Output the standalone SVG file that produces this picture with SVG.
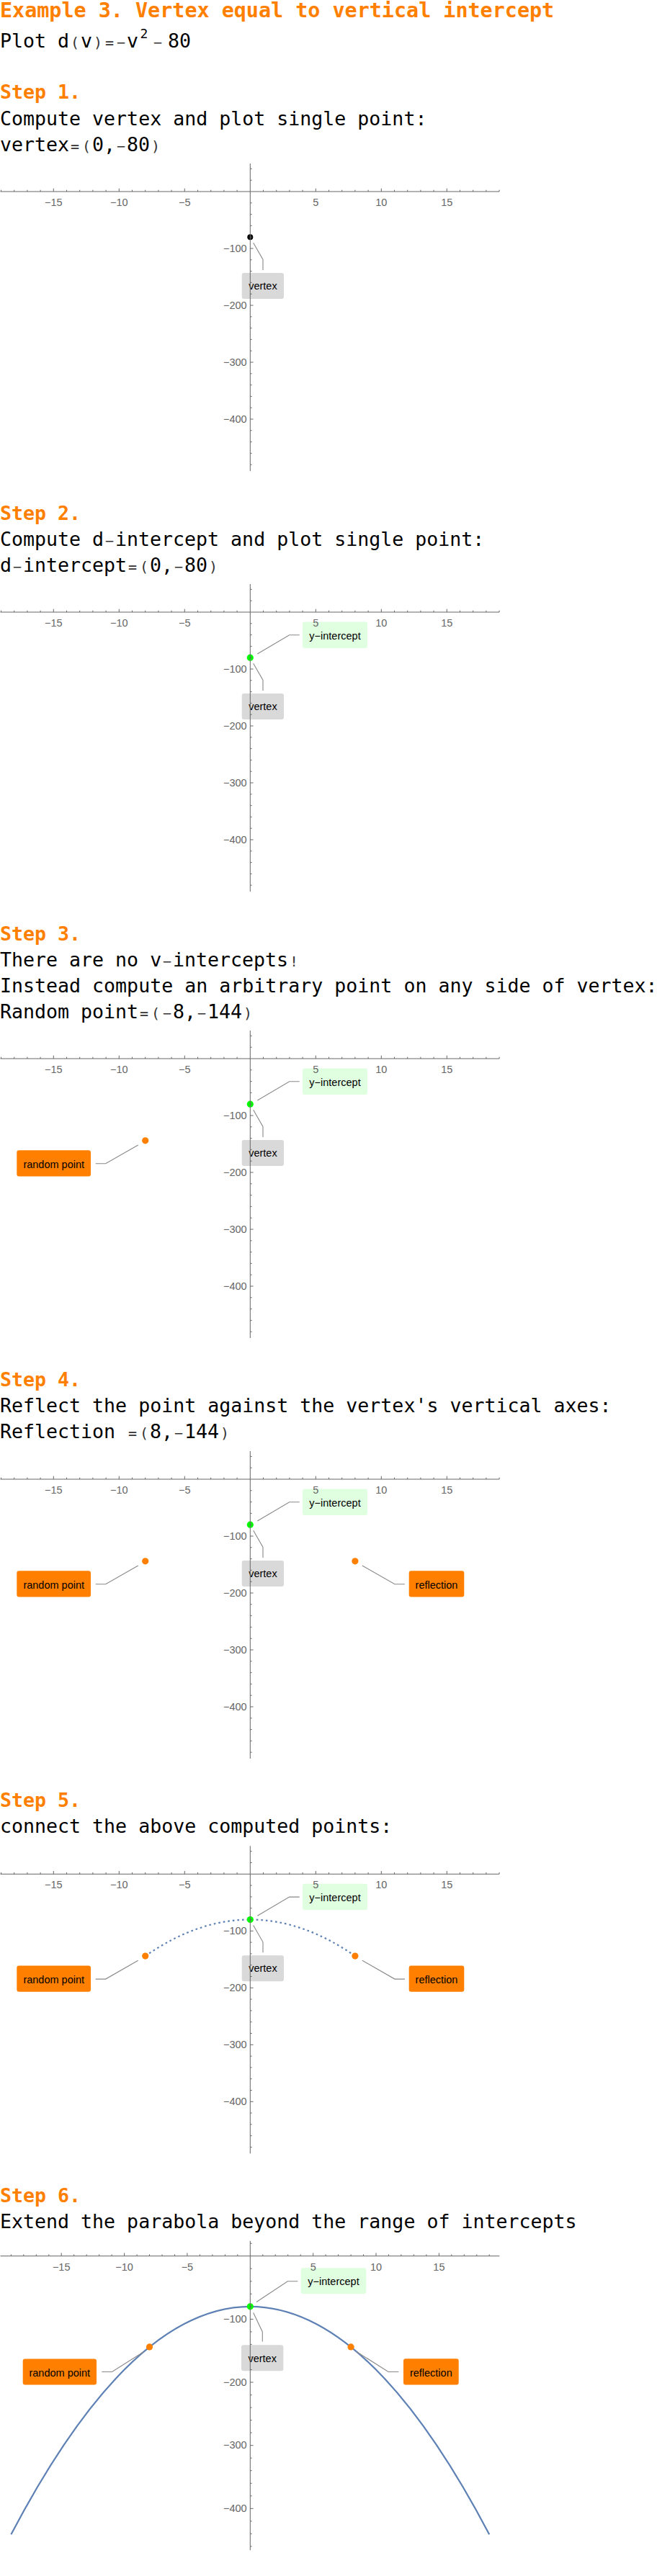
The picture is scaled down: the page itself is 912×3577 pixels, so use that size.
<svg xmlns="http://www.w3.org/2000/svg" xmlns:xlink="http://www.w3.org/1999/xlink" width="912" height="3577" viewBox="0 0 912 3577">
<style>
.h{font-family:"DejaVu Sans Mono",monospace;font-weight:bold;fill:#ff8000;font-size:26.6px}
.ti{font-size:28.4px}
.t{font-family:"DejaVu Sans Mono",monospace;font-size:26.6px;fill:#000}
.s{font-size:20px;fill:#333}
.sup{font-size:18px}
.tick{font-family:"Liberation Sans",Arial,sans-serif;font-size:14.5px;fill:#666}
.lbl{font-family:"Liberation Sans",Arial,sans-serif;font-size:14.5px;fill:#000;text-anchor:middle}
.ax{stroke:#666;stroke-width:1;fill:none}
.ld{stroke:#888;stroke-width:1.1;fill:none}
.bg{fill:#d9d9d9}
.by{fill:#e0ffe0}
.bo{fill:#ff8000}
.po{fill:#ff8000}
.pg{fill:#00ff00}
.pk{fill:#000}
.cv{stroke:#5e81b5;stroke-width:2.2;fill:none}
.dt{stroke:#5e81b5;stroke-width:2.2;fill:none;stroke-dasharray:2.6 4}
</style>
<defs>
<g id="axA">
<path class="ax" d="M0.5 0H693M347.3 -39V388"/>
<path class="ax" d="M1.5 0v-2.3M19.7 0v-2.3M37.9 0v-2.3M56.1 0v-2.3M92.5 0v-2.3M110.7 0v-2.3M128.9 0v-2.3M147.1 0v-2.3M183.5 0v-2.3M201.7 0v-2.3M219.9 0v-2.3M238.1 0v-2.3M274.5 0v-2.3M292.7 0v-2.3M310.9 0v-2.3M329.1 0v-2.3M365.5 0v-2.3M383.7 0v-2.3M401.9 0v-2.3M420.1 0v-2.3M456.5 0v-2.3M474.7 0v-2.3M492.9 0v-2.3M511.1 0v-2.3M547.5 0v-2.3M565.7 0v-2.3M583.9 0v-2.3M602.1 0v-2.3M638.5 0v-2.3M656.7 0v-2.3M674.9 0v-2.3M693.1 0v-2.3M74.3 0v-4.3M165.3 0v-4.3M256.3 0v-4.3M438.3 0v-4.3M529.3 0v-4.3M620.3 0v-4.3"/>
<path class="ax" d="M347.3 -31.6h2.3M347.3 -15.8h2.3M347.3 15.8h2.3M347.3 31.6h2.3M347.3 47.4h2.3M347.3 63.2h2.3M347.3 94.8h2.3M347.3 110.6h2.3M347.3 126.4h2.3M347.3 142.2h2.3M347.3 173.8h2.3M347.3 189.6h2.3M347.3 205.4h2.3M347.3 221.2h2.3M347.3 252.8h2.3M347.3 268.6h2.3M347.3 284.4h2.3M347.3 300.2h2.3M347.3 331.8h2.3M347.3 347.6h2.3M347.3 363.4h2.3M347.3 379.2h2.3M347.3 79h4.3M347.3 158h4.3M347.3 237h4.3M347.3 316h4.3"/>
<text class="tick" text-anchor="middle" y="20"><tspan x="74.3">−15</tspan><tspan x="165.3">−10</tspan><tspan x="256.3">−5</tspan><tspan x="438.3">5</tspan><tspan x="529.3">10</tspan><tspan x="620.3">15</tspan></text>
<text class="tick" text-anchor="end"><tspan x="342.7" y="83.7">−100</tspan><tspan x="342.7" y="162.7">−200</tspan><tspan x="342.7" y="241.7">−300</tspan><tspan x="342.7" y="320.7">−400</tspan></text>
</g>
<g id="axB">
<path class="ax" d="M0.5 0H693.3M347.3 -21V408.5"/>
<path class="ax" d="M15.4 0v-2.3M32.8 0v-2.3M50.3 0v-2.3M67.8 0v-2.3M102.7 0v-2.3M120.2 0v-2.3M137.7 0v-2.3M155.1 0v-2.3M190.1 0v-2.3M207.5 0v-2.3M225 0v-2.3M242.5 0v-2.3M277.4 0v-2.3M294.9 0v-2.3M312.4 0v-2.3M329.8 0v-2.3M364.8 0v-2.3M382.2 0v-2.3M399.7 0v-2.3M417.2 0v-2.3M452.1 0v-2.3M469.6 0v-2.3M487.1 0v-2.3M504.5 0v-2.3M539.5 0v-2.3M556.9 0v-2.3M574.4 0v-2.3M591.9 0v-2.3M626.8 0v-2.3M644.3 0v-2.3M661.8 0v-2.3M679.2 0v-2.3M85.2 0v-4.3M172.6 0v-4.3M259.9 0v-4.3M434.7 0v-4.3M522 0v-4.3M609.4 0v-4.3"/>
<path class="ax" d="M347.3 -17.5h2.3M347.3 17.5h2.3M347.3 35.1h2.3M347.3 52.6h2.3M347.3 70.1h2.3M347.3 105.2h2.3M347.3 122.7h2.3M347.3 140.3h2.3M347.3 157.8h2.3M347.3 192.9h2.3M347.3 210.4h2.3M347.3 227.9h2.3M347.3 245.4h2.3M347.3 280.5h2.3M347.3 298h2.3M347.3 315.6h2.3M347.3 333.1h2.3M347.3 368.2h2.3M347.3 385.7h2.3M347.3 403.2h2.3M347.3 87.7h4.3M347.3 175.3h4.3M347.3 263h4.3M347.3 350.6h4.3"/>
<text class="tick" text-anchor="middle" y="20"><tspan x="85.2">−15</tspan><tspan x="172.6">−10</tspan><tspan x="259.9">−5</tspan><tspan x="434.7">5</tspan><tspan x="522">10</tspan><tspan x="609.4">15</tspan></text>
<text class="tick" text-anchor="end"><tspan x="342.7" y="92.4">−100</tspan><tspan x="342.7" y="180">−200</tspan><tspan x="342.7" y="267.7">−300</tspan><tspan x="342.7" y="355.3">−400</tspan></text>
</g>
</defs>
<rect width="912" height="3577" fill="#fff"/>

<g id="text">
<text class="h ti" x="0" y="24">Example 3. Vertex equal to vertical intercept</text>
<text class="t" y="65.7"><tspan x="0">Plot d</tspan><tspan class="s" x="98">(</tspan><tspan x="112">v</tspan><tspan class="s" x="130">)</tspan><tspan class="s" x="146">=</tspan><tspan class="s" x="162">−</tspan><tspan x="176">v</tspan><tspan class="sup" x="194.5" dy="-12.4">2</tspan><tspan class="s" x="213" dy="12.4">−</tspan><tspan x="233">80</tspan></text>

<text class="h" x="0" y="137.3">Step 1.</text>
<text class="t" x="0" y="174">Compute vertex and plot single point:</text>
<text class="t" y="210"><tspan x="0">vertex</tspan><tspan class="s" x="98">=</tspan><tspan class="s" x="114">(</tspan><tspan x="128">0,</tspan><tspan class="s" x="162">−</tspan><tspan x="176">80</tspan><tspan class="s" x="210">)</tspan></text>

<text class="h" x="0" y="722">Step 2.</text>
<text class="t" y="758"><tspan x="0">Compute d</tspan><tspan class="s" x="146">−</tspan><tspan x="160">intercept and plot single point:</tspan></text>
<text class="t" y="794"><tspan x="0">d</tspan><tspan class="s" x="18">−</tspan><tspan x="32">intercept</tspan><tspan class="s" x="178">=</tspan><tspan class="s" x="194">(</tspan><tspan x="208">0,</tspan><tspan class="s" x="242">−</tspan><tspan x="256">80</tspan><tspan class="s" x="290">)</tspan></text>

<text class="h" x="0" y="1306">Step 3.</text>
<text class="t" y="1342"><tspan x="0">There are no v</tspan><tspan class="s" x="226">−</tspan><tspan x="240">intercepts</tspan><tspan class="s" x="402">!</tspan></text>
<text class="t" x="0" y="1378">Instead compute an arbitrary point on any side of vertex:</text>
<text class="t" y="1413.5"><tspan x="0">Random point</tspan><tspan class="s" x="194">=</tspan><tspan class="s" x="210">(</tspan><tspan class="s" x="226">−</tspan><tspan x="240">8,</tspan><tspan class="s" x="274">−</tspan><tspan x="288">144</tspan><tspan class="s" x="338">)</tspan></text>

<text class="h" x="0" y="1925">Step 4.</text>
<text class="t" x="0" y="1961">Reflect the point against the vertex's vertical axes:</text>
<text class="t" y="1997"><tspan x="0">Reflection</tspan><tspan class="s" x="178">=</tspan><tspan class="s" x="194">(</tspan><tspan x="208">8,</tspan><tspan class="s" x="242">−</tspan><tspan x="256">144</tspan><tspan class="s" x="306">)</tspan></text>

<text class="h" x="0" y="2509">Step 5.</text>
<text class="t" x="0" y="2545">connect the above computed points:</text>

<text class="h" x="0" y="3058">Step 6.</text>
<text class="t" x="0" y="3094">Extend the parabola beyond the range of intercepts</text>
</g>

<!-- Plot 1 -->
<g id="plot1" transform="translate(0,266)">
<g id="p1-connectors"><path class="ld" d="M351.7 71.3L365 94.5V109"/></g>
<g id="p1-vertex-label"><rect class="bg" x="335.7" y="113" width="58.3" height="36" rx="3"/><text class="lbl" x="364.9" y="136">vertex</text></g>
<g id="p1-vertex-point"><circle class="pk" cx="347.3" cy="63.2" r="4"/></g>
<use xlink:href="#axA" href="#axA"/>
</g>

<!-- Plot 2 -->
<g id="plot2" transform="translate(0,850)">
<g id="p2-connectors"><path class="ld" d="M351.7 71.3L365 94.5V109"/><path class="ld" d="M357.3 58L401.7 31.8H415.7"/></g>
<g id="p2-vertex-label"><rect class="bg" x="335.7" y="113" width="58.3" height="36" rx="3"/><text class="lbl" x="364.9" y="136">vertex</text></g>
<g id="p2-yint-label"><rect class="by" x="420" y="13.5" width="90" height="36.5" rx="3"/><text class="lbl" x="465" y="38">y−intercept</text></g>
<g id="p2-yint-point"><circle class="pg" cx="347.3" cy="63.2" r="4.6"/></g>
<use xlink:href="#axA" href="#axA"/>
</g>

<!-- Plot 3 -->
<g id="plot3" transform="translate(0,1470)">
<g id="p3-connectors"><path class="ld" d="M351.7 71.3L365 94.5V109"/><path class="ld" d="M357.3 58L401.7 31.8H415.7"/><path class="ld" d="M191.7 120L146.7 145.8H132.7"/></g>
<g id="p3-vertex-label"><rect class="bg" x="335.7" y="113" width="58.3" height="36" rx="3"/><text class="lbl" x="364.9" y="136">vertex</text></g>
<g id="p3-yint-label"><rect class="by" x="420" y="13.5" width="90" height="36.5" rx="3"/><text class="lbl" x="465" y="38">y−intercept</text></g>
<g id="p3-random-label"><rect class="bo" x="23.3" y="127.3" width="102.7" height="36.2" rx="3"/><text class="lbl" x="74.7" y="151.7">random point</text></g>
<g id="p3-yint-point"><circle class="pg" cx="347.3" cy="63.2" r="4.6"/></g>
<g id="p3-random-point"><circle class="po" cx="201.7" cy="113.8" r="4.6"/></g>
<use xlink:href="#axA" href="#axA"/>
</g>

<!-- Plot 4 -->
<g id="plot4" transform="translate(0,2054)">
<g id="p4-connectors"><path class="ld" d="M351.7 71.3L365 94.5V109"/><path class="ld" d="M357.3 58L401.7 31.8H415.7"/><path class="ld" d="M191.7 120L146.7 145.8H132.7"/><path class="ld" d="M502.9 120L547.9 145.8H561.9"/></g>
<g id="p4-vertex-label"><rect class="bg" x="335.7" y="113" width="58.3" height="36" rx="3"/><text class="lbl" x="364.9" y="136">vertex</text></g>
<g id="p4-yint-label"><rect class="by" x="420" y="13.5" width="90" height="36.5" rx="3"/><text class="lbl" x="465" y="38">y−intercept</text></g>
<g id="p4-random-label"><rect class="bo" x="23.3" y="127.3" width="102.7" height="36.2" rx="3"/><text class="lbl" x="74.7" y="151.7">random point</text></g>
<g id="p4-reflection-label"><rect class="bo" x="567.7" y="127.3" width="76.6" height="36.2" rx="3"/><text class="lbl" x="606" y="151.7">reflection</text></g>
<g id="p4-yint-point"><circle class="pg" cx="347.3" cy="63.2" r="4.6"/></g>
<g id="p4-random-point"><circle class="po" cx="201.7" cy="113.8" r="4.6"/></g>
<g id="p4-reflection-point"><circle class="po" cx="492.9" cy="113.8" r="4.6"/></g>
<use xlink:href="#axA" href="#axA"/>
</g>

<!-- Plot 5 -->
<g id="plot5" transform="translate(0,2602.3)">
<g id="p5-curve"><path class="dt" d="M201.7 113.8Q347.3 12.6 492.9 113.8"/></g>
<g id="p5-connectors"><path class="ld" d="M351.7 71.3L365 94.5V109"/><path class="ld" d="M357.3 58L401.7 31.8H415.7"/><path class="ld" d="M191.7 120L146.7 145.8H132.7"/><path class="ld" d="M502.9 120L547.9 145.8H561.9"/></g>
<g id="p5-vertex-label"><rect class="bg" x="335.7" y="113" width="58.3" height="36" rx="3"/><text class="lbl" x="364.9" y="136">vertex</text></g>
<g id="p5-yint-label"><rect class="by" x="420" y="13.5" width="90" height="36.5" rx="3"/><text class="lbl" x="465" y="38">y−intercept</text></g>
<g id="p5-random-label"><rect class="bo" x="23.3" y="127.3" width="102.7" height="36.2" rx="3"/><text class="lbl" x="74.7" y="151.7">random point</text></g>
<g id="p5-reflection-label"><rect class="bo" x="567.7" y="127.3" width="76.6" height="36.2" rx="3"/><text class="lbl" x="606" y="151.7">reflection</text></g>
<g id="p5-yint-point"><circle class="pg" cx="347.3" cy="63.2" r="4.6"/></g>
<g id="p5-random-point"><circle class="po" cx="201.7" cy="113.8" r="4.6"/></g>
<g id="p5-reflection-point"><circle class="po" cx="492.9" cy="113.8" r="4.6"/></g>
<use xlink:href="#axA" href="#axA"/>
</g>

<!-- Plot 6 -->
<g id="plot6" transform="translate(0,3132.7)">
<g id="p6-curve"><path class="cv" d="M15.4 386.6Q347.3 -246.3 679.2 386.6"/></g>
<g id="p6-connectors"><path class="ld" d="M351.7 78.9L364.3 105.2V118.9"/><path class="ld" d="M356 63.8L399.3 35.1H413.3"/><path class="ld" d="M199.3 133L155.5 160.8H141.3"/><path class="ld" d="M495.3 133L539.1 160.8H553.3"/></g>
<g id="p6-vertex-label"><rect class="bg" x="335" y="123.5" width="58.3" height="36" rx="3"/><text class="lbl" x="364.2" y="147.3">vertex</text></g>
<g id="p6-yint-label"><rect class="by" x="417.7" y="16.5" width="90.6" height="36" rx="3"/><text class="lbl" x="463" y="40.8">y−intercept</text></g>
<g id="p6-random-label"><rect class="bo" x="31.7" y="142.7" width="102.3" height="36.2" rx="3"/><text class="lbl" x="82.8" y="167">random point</text></g>
<g id="p6-reflection-label"><rect class="bo" x="560" y="142.5" width="76.7" height="36.2" rx="3"/><text class="lbl" x="598.3" y="167">reflection</text></g>
<g id="p6-yint-point"><circle class="pg" cx="347.3" cy="70.1" r="4.6"/></g>
<g id="p6-random-point"><circle class="po" cx="207.5" cy="126.2" r="4.6"/></g>
<g id="p6-reflection-point"><circle class="po" cx="487.1" cy="126.2" r="4.6"/></g>
<use xlink:href="#axB" href="#axB"/>
</g>
</svg>
